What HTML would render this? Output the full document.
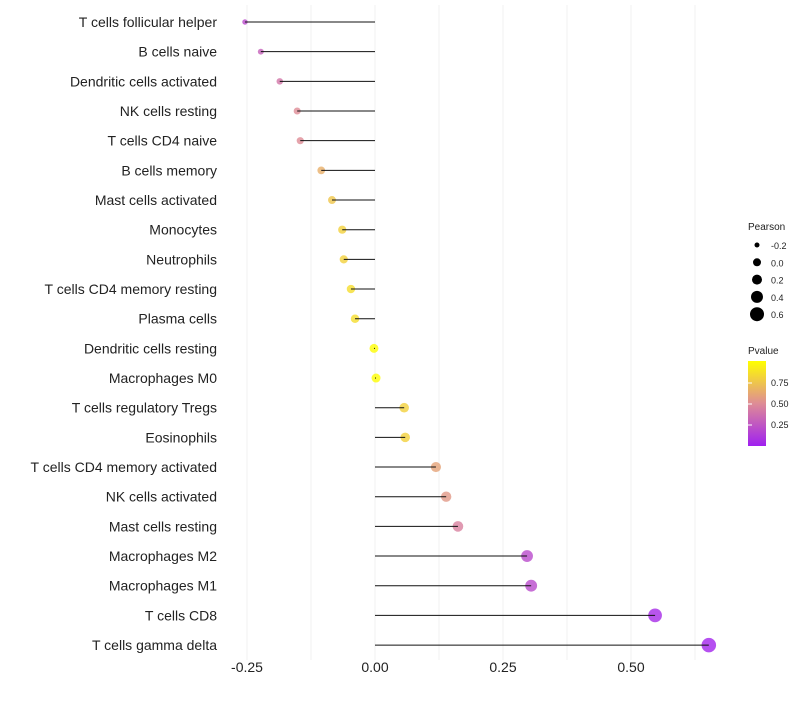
<!DOCTYPE html>
<html><head><meta charset="utf-8"><style>
body{margin:0;background:#fff;font-family:"Liberation Sans",sans-serif}
</style></head><body>
<svg id="chart" width="800" height="700" xmlns="http://www.w3.org/2000/svg"></svg>
<script>
const categories=["T cells follicular helper","B cells naive","Dendritic cells activated","NK cells resting","T cells CD4 naive","B cells memory","Mast cells activated","Monocytes","Neutrophils","T cells CD4 memory resting","Plasma cells","Dendritic cells resting","Macrophages M0","T cells regulatory  Tregs ","Eosinophils","T cells CD4 memory activated","NK cells activated","Mast cells resting","Macrophages M2","Macrophages M1","T cells CD8","T cells gamma delta"];
const pearson=[-0.254,-0.223,-0.186,-0.152,-0.146,-0.105,-0.084,-0.064,-0.061,-0.047,-0.039,-0.002,0.002,0.057,0.059,0.119,0.139,0.162,0.297,0.305,0.547,0.652];
const pvalue=[0.2,0.3,0.4,0.5,0.5,0.65,0.75,0.8,0.8,0.85,0.85,0.99,0.99,0.8,0.8,0.6,0.55,0.45,0.2,0.2,0.05,0.02];
const xTicks=[-0.25,0,0.25,0.5];
const xTickLabels=["-0.25","0.00","0.25","0.50"];
const sizeLegend=[-0.2,0,0.2,0.4,0.6];
const colorTicks=[0.25,0.5,0.75];
const NS="http://www.w3.org/2000/svg";
const svg=document.getElementById('chart');
const x=v=>375+v*512;
const y=i=>22+i*29.67;
const r=v=>Math.sqrt(Math.max(3,20+50*v));
function col(p){
  const st=[[0,[160,32,240]],[0.5,[222,140,150]],[1,[255,255,0]]];
  p=Math.max(0,Math.min(1,p));
  let a=st[0],b=st[1]; if(p>0.5){a=st[1];b=st[2];}
  const t=(p-a[0])/(b[0]-a[0]);
  return 'rgb('+a[1].map((c,k)=>Math.round(c+(b[1][k]-c)*t)).join(',')+')';
}
function el(tag,attrs,text){const e=document.createElementNS(NS,tag);for(const k in attrs)e.setAttribute(k,attrs[k]);if(text!=null)e.textContent=text;svg.appendChild(e);return e;}
for(let v=-0.25;v<=0.7;v+=0.125){
  const g=el('line',{x1:x(v),x2:x(v),y1:5,y2:660,stroke:'#f0f0f0','stroke-width':1});
  
  
}
xTicks.forEach((v,i)=>{
  const t=el('text',{x:x(v),y:672,'text-anchor':'middle','font-size':14,fill:'#222'},xTickLabels[i]);
  
  
});
categories.forEach((c,i)=>{
  const t=el('text',{x:217,y:y(i)+5,'text-anchor':'end','font-size':14,fill:'#222'},c);
  
  
  const d=el('circle',{cx:x(pearson[i]),cy:y(i),r:r(pearson[i]),fill:col(pvalue[i]),'fill-opacity':0.8});
  
  
  const s=el('line',{x1:x(0),x2:x(pearson[i]),y1:y(i),y2:y(i),stroke:'#111','stroke-width':1});
  
  
});
const lt=el('text',{x:748,y:230,'font-size':10,fill:'#222'},'Pearson');


sizeLegend.forEach((v,i)=>{
  const c=el('circle',{cx:757,cy:245+i*17.3,r:[2.5,4,5,6,7][i],fill:'#000'});
  
  
  const t=el('text',{x:771,y:249+i*17.3,'font-size':9,fill:'#222'},v.toFixed(1));
  
  
});
const ct=el('text',{x:748,y:354,'font-size':10,fill:'#222'},'Pvalue');


const defs=document.createElementNS(NS,'defs');svg.appendChild(defs);
const lg=document.createElementNS(NS,'linearGradient');lg.setAttribute('id','pg');lg.setAttribute('x1','0');lg.setAttribute('y1','1');lg.setAttribute('x2','0');lg.setAttribute('y2','0');defs.appendChild(lg);
for(let k=0;k<=10;k++){const s=document.createElementNS(NS,'stop');s.setAttribute('offset',k/10);s.setAttribute('stop-color',col(k/10));lg.appendChild(s);}
const cb=el('rect',{x:748,y:361,width:18,height:85,fill:'url(#pg)'});


colorTicks.forEach(v=>{
  const yy=446-v*84;
  const l=el('line',{x1:748,x2:752,y1:yy,y2:yy,stroke:'#fff'});
  
  
  const t=el('text',{x:771,y:yy+3,'font-size':9,fill:'#222'},v.toFixed(2));
  
  
});
</script>
</body></html>
